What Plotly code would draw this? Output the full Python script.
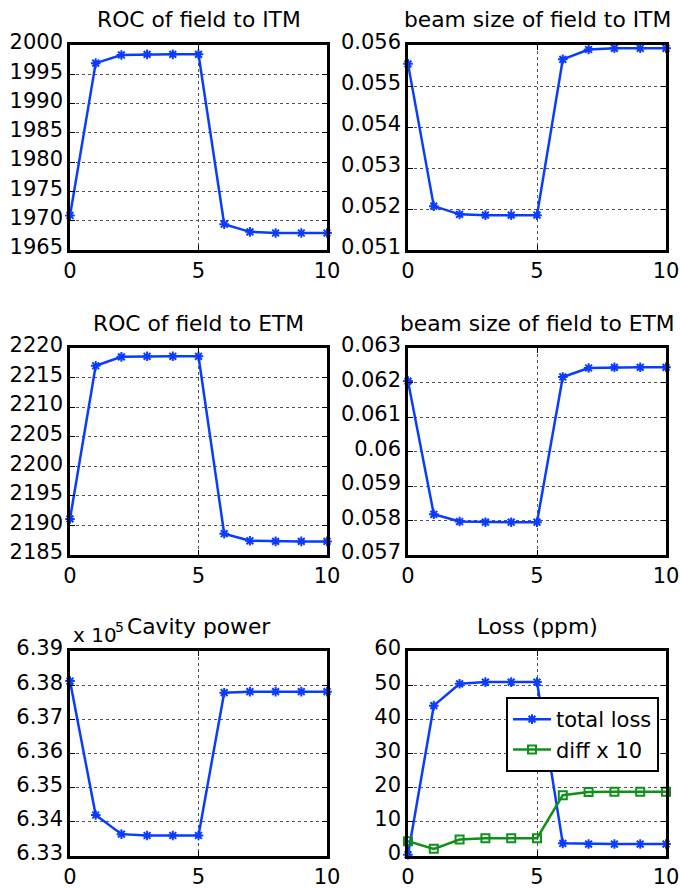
import plotly.graph_objects as go

# ---- data ----
steps = [0, 1, 2, 3, 4, 5, 6, 7, 8, 9, 10]
roc_itm = [1970.9, 1996.9, 1998.3, 1998.4, 1998.4, 1998.4, 1969.4, 1968.1, 1967.9, 1967.9, 1967.9]
beam_itm = [0.05554, 0.05207, 0.05187, 0.05185, 0.05185, 0.05185, 0.05565, 0.05589, 0.05592, 0.05592, 0.05592]
roc_etm = [2191.1, 2217.0, 2218.5, 2218.6, 2218.6, 2218.6, 2188.6, 2187.4, 2187.3, 2187.3, 2187.3]
beam_etm = [0.06204, 0.05818, 0.05797, 0.05795, 0.05795, 0.05795, 0.06216, 0.06242, 0.06244, 0.06244, 0.06244]
cavity_power_e5 = [6.3812, 6.3420, 6.3364, 6.3360, 6.3360, 6.3360, 6.3778, 6.3781, 6.3781, 6.3781, 6.3781]
total_loss = [0.4, 44.0, 50.4, 50.9, 50.9, 50.9, 3.7, 3.5, 3.5, 3.5, 3.5]
diff_x10 = [4.3, 2.1, 4.8, 5.2, 5.2, 5.2, 17.8, 18.7, 18.8, 18.8, 18.8]

titles = ["ROC of field to ITM", "beam size of field to ITM",
          "ROC of field to ETM", "beam size of field to ETM",
          "Cavity power", "Loss (ppm)"]
x_ticks = [0, 5, 10]
yt_roc_itm = [1965, 1970, 1975, 1980, 1985, 1990, 1995, 2000]
yt_beam_itm = [0.051, 0.052, 0.053, 0.054, 0.055, 0.056]
yl_beam_itm = ["0.051", "0.052", "0.053", "0.054", "0.055", "0.056"]
yt_roc_etm = [2185, 2190, 2195, 2200, 2205, 2210, 2215, 2220]
yt_beam_etm = [0.057, 0.058, 0.059, 0.060, 0.061, 0.062, 0.063]
yl_beam_etm = ["0.057", "0.058", "0.059", "0.06", "0.061", "0.062", "0.063"]
yt_power = [6.33, 6.34, 6.35, 6.36, 6.37, 6.38, 6.39]
yl_power = ["6.33", "6.34", "6.35", "6.36", "6.37", "6.38", "6.39"]
yt_loss = [0, 10, 20, 30, 40, 50, 60]

W, H = 680, 888
BLUE = "#0a3cff"
GREEN = "#10901a"
FONT = "DejaVu Sans"

# pixel layout (left, right, top, bottom)
cols = [(70, 327), (408, 666)]
rows = [(45, 250), (348, 555), (651, 856)]

fig = go.Figure()

panels = [
    (roc_itm, yt_roc_itm, [str(v) for v in yt_roc_itm]),
    (beam_itm, yt_beam_itm, yl_beam_itm),
    (roc_etm, yt_roc_etm, [str(v) for v in yt_roc_etm]),
    (beam_etm, yt_beam_etm, yl_beam_etm),
    (cavity_power_e5, yt_power, yl_power),
    (total_loss, yt_loss, [str(v) for v in yt_loss]),
]

annotations = []
for i, (yvals, ytv, ytt) in enumerate(panels):
    r, c = divmod(i, 2)
    n = i + 1
    xa = "x" if n == 1 else f"x{n}"
    ya = "y" if n == 1 else f"y{n}"
    fig.add_trace(go.Scatter(
        x=steps, y=yvals, xaxis=xa, yaxis=ya, mode="lines+markers",
        name="total loss", showlegend=(n == 6),
        line=dict(color=BLUE, width=2.5),
        marker=dict(symbol="asterisk-open", size=8, color=BLUE,
                    line=dict(color=BLUE, width=2)),
        cliponaxis=False,
    ))
    l, rr = cols[c]
    t, b = rows[r]
    xd = [l / W, rr / W]
    yd = [1 - b / H, 1 - t / H]
    axis_common = dict(
        automargin=False,
        showline=True, linecolor="black", linewidth=2.5, mirror="ticks",
        ticks="inside", ticklen=5, tickwidth=1, tickcolor="black",
        showgrid=True, gridcolor="#555555", gridwidth=1, griddash="dot",
        zeroline=False, tickfont=dict(family=FONT, size=21, color="black"),
    )
    fig.update_layout(**{
        ("xaxis" if n == 1 else f"xaxis{n}"): dict(
            domain=xd, anchor=ya, range=[0, 10], tickvals=x_ticks,
            ticklabelstandoff=0, **axis_common),
        ("yaxis" if n == 1 else f"yaxis{n}"): dict(
            domain=yd, anchor=xa, range=[ytv[0], ytv[-1]],
            tickvals=ytv, ticktext=ytt, ticklabelshift=-3, **axis_common),
    })
    annotations.append(dict(
        text=titles[i], xref="paper", yref="paper",
        x=(l + rr) / 2 / W, y=1 - (t - 25) / H, xanchor="center", yanchor="middle",
        showarrow=False, font=dict(family=FONT, size=21.8, color="black")))

fig.add_trace(go.Scatter(
    x=steps, y=diff_x10, xaxis="x6", yaxis="y6", mode="lines+markers",
    name="diff x 10", showlegend=True,
    line=dict(color=GREEN, width=2.5),
    marker=dict(symbol="square-open", size=8, color=GREEN,
                line=dict(color=GREEN, width=2)),
    cliponaxis=False,
))

# exponent label "x 10^5"
annotations.append(dict(
    text="x 10", xref="paper", yref="paper",
    x=71 / W, y=1 - 649 / H, xanchor="left", yanchor="bottom",
    showarrow=False, font=dict(family=FONT, size=20, color="black")))
annotations.append(dict(
    text="5", xref="paper", yref="paper",
    x=113 / W, y=1 - 637 / H, xanchor="left", yanchor="bottom",
    showarrow=False, font=dict(family=FONT, size=14, color="black")))

fig.update_layout(
    width=W, height=H, margin=dict(l=0, r=0, t=0, b=0),
    paper_bgcolor="white", plot_bgcolor="white",
    annotations=annotations,
    legend=dict(x=506 / W, y=1 - 697 / H, xanchor="left", yanchor="top",
                bgcolor="white", bordercolor="black", borderwidth=2,
                font=dict(family=FONT, size=21, color="black"),
                itemwidth=38, tracegroupgap=0),
    font=dict(family=FONT),
)

fig.write_html("out.html", config={"displayModeBar": False},
               post_script="document.body.style.margin='0px';")
